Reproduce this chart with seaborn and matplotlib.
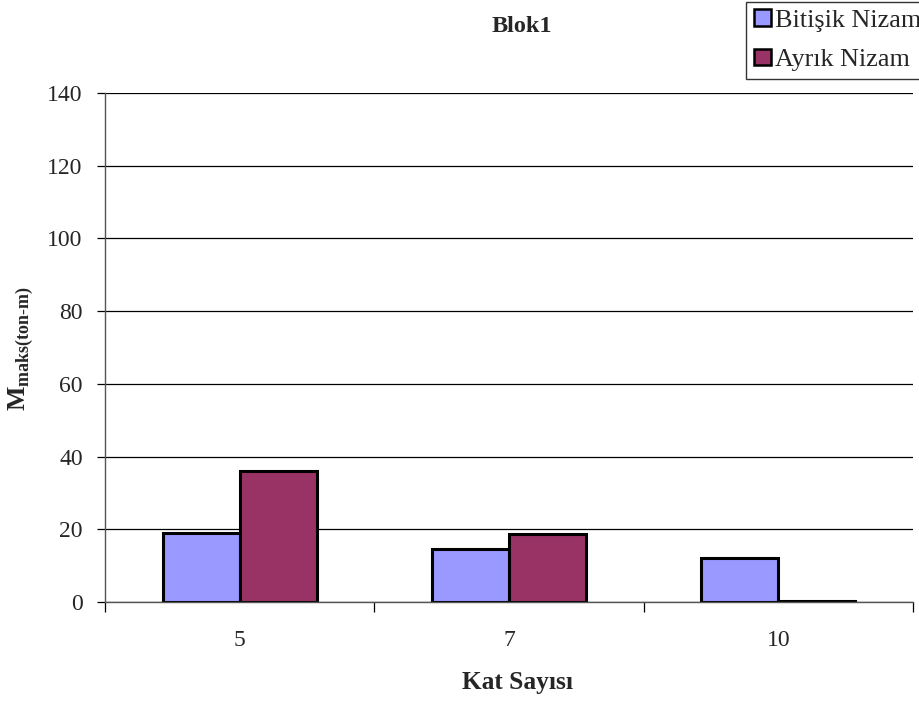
import matplotlib
matplotlib.use("Agg")
import matplotlib.pyplot as plt
import seaborn as sns
import pandas as pd
import numpy as np
from matplotlib.ticker import FixedLocator
from matplotlib.patches import Patch

categories = ["5", "7", "10"]
bitisik = [19.0, 14.5, 12.2]
ayrik = [35.9, 18.7, 0.2]
series_names = ["Bitişik Nizam", "Ayrık Nizam"]
colors = ["#9999FF", "#993366"]
yticks = [0, 20, 40, 60, 80, 100, 120, 140]

df = pd.DataFrame({
    "Kat": categories * 2,
    "M": bitisik + ayrik,
    "Seri": [series_names[0]] * 3 + [series_names[1]] * 3,
})

sns.set_theme(style="white")
plt.rcParams["font.family"] = ["Liberation Serif", "DejaVu Serif"]
plt.rcParams["mathtext.fontset"] = "custom"
plt.rcParams["mathtext.rm"] = "Liberation Serif"
plt.rcParams["mathtext.bf"] = "Liberation Serif:bold"

fig = plt.figure(figsize=(9.2, 7.01), dpi=100)
ax = fig.add_axes([105 / 920, 1 - 602 / 701, (913 - 105) / 920, (602 - 93) / 701])

sns.barplot(data=df, x="Kat", y="M", hue="Seri", order=categories,
            hue_order=series_names, palette=colors, width=2 / 3.5,
            edgecolor="black", linewidth=2.2, saturation=1, ax=ax,
            legend=False, errorbar=None)

ax.set_xlim(-0.5, 2.5)
ax.set_ylim(0, 140)
ax.set_yticks(yticks)
ax.set_yticklabels([str(v) for v in yticks], fontsize=17)
ax.yaxis.grid(True, color="black", linewidth=0.9)
ax.set_axisbelow(True)
for s in ["top", "right"]:
    ax.spines[s].set_visible(False)
for s in ["left", "bottom"]:
    ax.spines[s].set_color("#555555")
    ax.spines[s].set_linewidth(1.0)

ax.tick_params(axis="y", which="major", direction="out", length=6, width=0.9,
               color="black", left=True, pad=10)
ax.tick_params(axis="x", which="major", length=0, labelsize=17, pad=20)
ax.xaxis.set_minor_locator(FixedLocator([-0.5, 0.5, 1.5, 2.5]))
ax.tick_params(axis="x", which="minor", direction="out", length=7, width=0.9,
               color="black", bottom=True)

ax.set_xlabel("")
ax.set_ylabel("")
fig.text(517 / 920, 1 - 683 / 701, "Kat Sayısı", ha="center", va="center",
         fontsize=18.3, fontweight="bold")
fig.text(21.5 / 920, 1 - 348.5 / 701,
         r"$\mathbf{M}_{\mathbf{maks(ton\text{-}m)}}$", ha="center",
         va="center", rotation=90, fontsize=18.5)
fig.text(522 / 920, 1 - 27 / 701, "Blok1", ha="center", va="center",
         fontsize=17.5, fontweight="bold")

handles = [Patch(facecolor=c, edgecolor="black", linewidth=1.8) for c in colors]
leg = fig.legend(handles, series_names, loc="upper left",
                 bbox_to_anchor=(746 / 920, 1 - 1.5 / 701), fontsize=18.8,
                 frameon=True, fancybox=False, edgecolor="black",
                 handlelength=0.68, handleheight=0.6, handletextpad=0.15,
                 borderpad=0.29, labelspacing=0.65, borderaxespad=0.0)
leg.get_frame().set_linewidth(1.0)

fig.savefig("out.png", dpi=100)
